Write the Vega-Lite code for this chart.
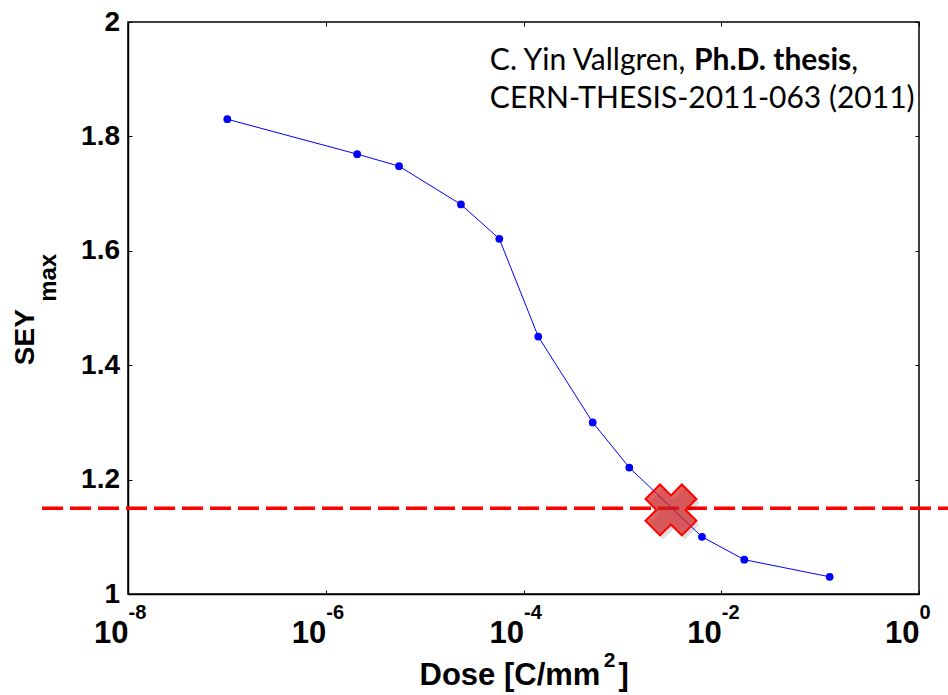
{
  "$schema": "https://vega.github.io/schema/vega-lite/v6.json",
  "width": 791,
  "height": 572,
  "autosize": {"type": "none"},
  "padding": {"left": 128, "top": 22, "right": 29, "bottom": 101},
  "background": "white",
  "config": {
    "view": {"stroke": "black", "strokeWidth": 1.5},
    "axis": {"grid": false, "labelFlush": false, "labelOverlap": false, "labelBound": false}
  },
  "datasets": {
    "pts": [
      {"dose": 1.01e-7, "sey": 1.830},
      {"dose": 2.08e-6, "sey": 1.769},
      {"dose": 5.51e-6, "sey": 1.748},
      {"dose": 2.33e-5, "sey": 1.681},
      {"dose": 5.69e-5, "sey": 1.621},
      {"dose": 1.41e-4, "sey": 1.450},
      {"dose": 5.01e-4, "sey": 1.300},
      {"dose": 1.175e-3, "sey": 1.221},
      {"dose": 6.38e-3, "sey": 1.100},
      {"dose": 1.71e-2, "sey": 1.060},
      {"dose": 0.125, "sey": 1.030}
    ]
  },
  "resolve": {"axis": {"x": "independent", "y": "independent"}},
  "layer": [
    {
      "data": {"values": [{"x1": 1.35e-9, "x2": 2, "y": 1.15}]},
      "mark": {"type": "rule", "color": "#FF0000", "strokeWidth": 3.5, "strokeDash": [21, 7], "clip": false},
      "encoding": {
        "x": {"field": "x1", "type": "quantitative", "scale": {"type": "log", "domain": [1e-8, 1], "nice": false}, "axis": null},
        "x2": {"field": "x2"},
        "y": {"field": "y", "type": "quantitative", "scale": {"domain": [1, 2], "zero": false, "nice": false}, "axis": null}
      }
    },
    {
      "data": {"name": "pts"},
      "mark": {"type": "line", "color": "#0000FF", "strokeWidth": 1},
      "encoding": {
        "x": {
          "field": "dose", "type": "quantitative",
          "scale": {"type": "log", "domain": [1e-8, 1], "nice": false},
          "axis": {
            "orient": "bottom",
            "values": [1e-8, 1e-6, 1e-4, 1e-2, 1],
            "labelExpr": "'10'",
            "labelFont": "Liberation Sans", "labelFontWeight": "bold", "labelFontSize": 31, "labelColor": "black",
            "labelAlign": "right", "labelDx": 5, "labelBaseline": "alphabetic", "labelPadding": 52,
            "tickSize": -4, "tickColor": "black", "tickWidth": 1,
            "domainColor": "black", "domainWidth": 1.5,
            "title": "Dose [C/mm",
            "titleFont": "Liberation Sans", "titleFontWeight": "bold", "titleFontSize": 31, "titleColor": "black",
            "titleBaseline": "alphabetic", "titleAlign": "left", "titleX": 291, "titleY": 90
          }
        },
        "y": {
          "field": "sey", "type": "quantitative",
          "scale": {"domain": [1, 2], "zero": false, "nice": false},
          "axis": {
            "orient": "left",
            "values": [1, 1.2, 1.4, 1.6, 1.8, 2],
            "format": "~g",
            "labelFont": "Liberation Sans", "labelFontWeight": "bold", "labelFontSize": 28, "labelColor": "black",
            "labelPadding": 12.5, "labelBaseline": "middle",
            "tickSize": -4, "tickColor": "black", "tickWidth": 1,
            "domainColor": "black", "domainWidth": 1.5,
            "title": "SEY",
            "titleFont": "Liberation Sans", "titleFontWeight": "bold", "titleFontSize": 28, "titleColor": "black",
            "titleBaseline": "alphabetic", "titleAlign": "center", "titleX": -95, "titleY": 314.7
          }
        }
      }
    },
    {
      "data": {"name": "pts"},
      "mark": {"type": "point", "filled": true, "color": "#0000FF", "size": 60, "opacity": 1},
      "encoding": {
        "x": {"field": "dose", "type": "quantitative", "scale": {"type": "log", "domain": [1e-8, 1], "nice": false},
          "axis": {
            "orient": "bottom",
            "values": [1e-8, 1e-6, 1e-4, 1e-2, 1],
            "labelExpr": "'' + round(log(datum.value) / LN10)",
            "labelFont": "Liberation Sans", "labelFontWeight": "bold", "labelFontSize": 20, "labelColor": "black",
            "labelAlign": "left", "labelDx": 6, "labelBaseline": "alphabetic", "labelPadding": 24,
            "ticks": false, "domain": false,
            "title": "2",
            "titleFont": "Liberation Sans", "titleFontWeight": "bold", "titleFontSize": 21, "titleColor": "black",
            "titleBaseline": "alphabetic", "titleAlign": "center", "titleX": 481, "titleY": 72
          }
        },
        "y": {"field": "sey", "type": "quantitative", "scale": {"domain": [1, 2], "zero": false, "nice": false},
          "axis": {
            "orient": "left", "labels": false, "ticks": false, "domain": false,
            "title": "max",
            "titleFont": "Liberation Sans", "titleFontWeight": "bold", "titleFontSize": 24, "titleColor": "black",
            "titleBaseline": "alphabetic", "titleAlign": "center", "titleX": -73, "titleY": 255.3
          }
        }
      }
    },
    {
      "data": {"name": "pts"},
      "mark": {"type": "point", "opacity": 0},
      "encoding": {
        "x": {"field": "dose", "type": "quantitative", "scale": {"type": "log", "domain": [1e-8, 1], "nice": false},
          "axis": {"orient": "top", "values": [1e-8, 1e-6, 1e-4, 1e-2, 1], "labels": false, "domain": false, "tickSize": -4, "tickColor": "black",
            "title": "]",
            "titleFont": "Liberation Sans", "titleFontWeight": "bold", "titleFontSize": 31, "titleColor": "black",
            "titleBaseline": "alphabetic", "titleAlign": "left", "titleX": 490, "titleY": 662
          }
        },
        "y": {"field": "sey", "type": "quantitative", "scale": {"domain": [1, 2], "zero": false, "nice": false},
          "axis": {"orient": "right", "values": [1, 1.2, 1.4, 1.6, 1.8, 2], "labels": false, "domain": false, "tickSize": -4, "tickColor": "black", "title": null}
        }
      }
    },
    {
      "data": {"values": [{"dose": 3.1e-3, "sey": 1.147}]},
      "mark": {"type": "point", "shape": "cross", "angle": 45, "size": 2650, "filled": true, "fill": "#000000", "fillOpacity": 0.13, "strokeOpacity": 0, "xOffset": 3, "yOffset": 4},
      "encoding": {
        "x": {"field": "dose", "type": "quantitative", "scale": {"type": "log", "domain": [1e-8, 1], "nice": false}, "axis": null},
        "y": {"field": "sey", "type": "quantitative", "scale": {"domain": [1, 2], "zero": false, "nice": false}, "axis": null}
      }
    },
    {
      "data": {"values": [{"dose": 3.1e-3, "sey": 1.147}]},
      "mark": {"type": "point", "shape": "cross", "angle": 45, "size": 2650, "filled": true, "fill": "#D42020", "fillOpacity": 0.7, "stroke": "#FF0000", "strokeWidth": 2, "strokeOpacity": 1},
      "encoding": {
        "x": {"field": "dose", "type": "quantitative", "scale": {"type": "log", "domain": [1e-8, 1], "nice": false}, "axis": null},
        "y": {"field": "sey", "type": "quantitative", "scale": {"domain": [1, 2], "zero": false, "nice": false}, "axis": null}
      }
    },
    {
      "data": {"values": [
        {"x": 4.57e-5, "y": 1.916, "t": "C. Yin Vallgren,"},
        {"x": 0.207, "y": 1.916, "t": ","},
        {"x": 4.57e-5, "y": 1.8497, "t": "CERN-THESIS-2011-063 (2011)"}
      ]},
      "mark": {"type": "text", "align": "left", "baseline": "alphabetic", "font": "Lato", "fontSize": 30, "color": "black"},
      "encoding": {
        "x": {"field": "x", "type": "quantitative", "scale": {"type": "log", "domain": [1e-8, 1], "nice": false}, "axis": null},
        "y": {"field": "y", "type": "quantitative", "scale": {"domain": [1, 2], "zero": false, "nice": false}, "axis": null},
        "text": {"field": "t"}
      }
    },
    {
      "data": {"values": [{"x": 5.3e-3, "y": 1.916, "t": "Ph.D. thesis"}]},
      "mark": {"type": "text", "align": "left", "baseline": "alphabetic", "font": "Lato", "fontWeight": "bold", "fontSize": 30, "color": "black"},
      "encoding": {
        "x": {"field": "x", "type": "quantitative", "scale": {"type": "log", "domain": [1e-8, 1], "nice": false}, "axis": null},
        "y": {"field": "y", "type": "quantitative", "scale": {"domain": [1, 2], "zero": false, "nice": false}, "axis": null},
        "text": {"field": "t"}
      }
    }
  ]
}
